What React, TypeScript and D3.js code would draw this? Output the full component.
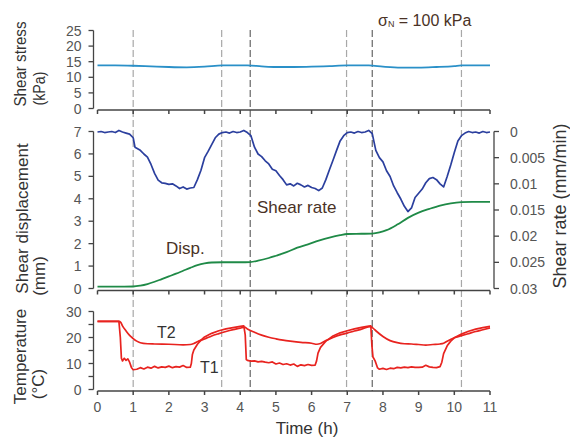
import React from "react";
import * as d3 from "d3";

// ---------- data ----------
const xTicks = [0, 1, 2, 3, 4, 5, 6, 7, 8, 9, 10, 11];
const stressTicks = [0, 5, 10, 15, 20, 25];
const dispTicks = [0, 1, 2, 3, 4, 5, 6, 7];
const rateTicks = [0, 0.005, 0.01, 0.015, 0.02, 0.025, 0.03];
const rateTickLabels = ["0", "0.005", "0.01", "0.015", "0.02", "0.025", "0.03"];
const tempTicks = [0, 5, 10, 15, 20, 25, 30];
const tempLabelTicks = [0, 10, 20, 30];

const eventTimes = [1.0, 3.48, 4.28, 6.98, 7.7, 10.2];
const eventKinds = ["light", "light", "dark", "light", "dark", "light"];

const stressT = [0, 0.5, 1, 1.5, 2, 2.5, 3, 3.5, 4.2, 4.6, 5, 5.5, 6, 6.5, 7, 7.6, 8, 8.5, 9, 9.5, 10, 10.2, 10.6, 11];
const stressV = [13.8, 13.8, 13.7, 13.5, 13.3, 13.2, 13.4, 13.8, 13.8, 13.5, 13.3, 13.3, 13.4, 13.6, 13.8, 13.8, 13.4, 13.1, 13.1, 13.3, 13.6, 13.8, 13.8, 13.8];

const rateT = [
  0, 0.1, 0.2, 0.3, 0.4, 0.5, 0.6, 0.7, 0.8, 0.9, 1.0, 1.05, 1.1, 1.2, 1.3, 1.4, 1.5, 1.6, 1.7, 1.8, 1.9,
  2.0, 2.1, 2.2, 2.3, 2.4, 2.5, 2.6, 2.7, 2.8, 2.9, 3.0, 3.1, 3.2, 3.3, 3.4, 3.5, 3.6, 3.7, 3.8, 3.9,
  4.0, 4.1, 4.2, 4.3, 4.4, 4.5, 4.6, 4.7, 4.8, 4.9, 5.0, 5.1, 5.2, 5.3, 5.4, 5.5, 5.6, 5.7, 5.8, 5.9,
  6.0, 6.1, 6.2, 6.3, 6.4, 6.5, 6.6, 6.7, 6.8, 6.9, 7.0, 7.1, 7.2, 7.3, 7.4, 7.5, 7.6, 7.7, 7.8, 7.9,
  8.0, 8.1, 8.2, 8.3, 8.4, 8.5, 8.6, 8.7, 8.8, 8.9, 9.0, 9.1, 9.2, 9.3, 9.4, 9.5, 9.6, 9.7, 9.8, 9.9,
  10.0, 10.1, 10.2, 10.3, 10.4, 10.5, 10.6, 10.7, 10.8, 10.9, 11.0,
];
const rateV = [
  0.0001, 0.0, 0.0002, 0.0001, 0.0, 0.0002, -0.0002, 0.0001, 0.0003, 0.0005, 0.0012, 0.003, 0.0032, 0.0036, 0.0043, 0.0049, 0.0063, 0.008, 0.0093, 0.0098, 0.0099,
  0.0101, 0.01, 0.0104, 0.0109, 0.0106, 0.011, 0.0108, 0.0107, 0.0092, 0.0074, 0.005, 0.0038, 0.0025, 0.0012, 0.0005, 0.0002, 0.0001, 0.0003, 0.0, 0.0002,
  0.0001, -0.0002, 0.0002, 0.0008, 0.003, 0.0043, 0.0048, 0.0056, 0.0062, 0.0072, 0.0075, 0.0084, 0.0092, 0.0102, 0.01, 0.0104, 0.0099, 0.0102, 0.0106, 0.0103,
  0.0107, 0.0109, 0.0113, 0.0108, 0.0092, 0.0073, 0.0055, 0.0036, 0.0018, 0.0008, 0.0002, 0.0001, 0.0003, 0.0, 0.0002, 0.0001, -0.0002, 0.0004, 0.0036, 0.005,
  0.0058, 0.0075, 0.0086, 0.0104, 0.0117, 0.0129, 0.0143, 0.0153, 0.0146, 0.0126, 0.0118, 0.011, 0.0098, 0.009, 0.0088, 0.0092, 0.01, 0.0106, 0.0086, 0.0064,
  0.004, 0.0018, 0.0008, 0.0003, 0.0, 0.0002, 0.0001, 0.0003, 0.0, 0.0002, 0.0001,
];

const dispT = [0, 0.5, 1.0, 1.2, 1.4, 1.6, 1.8, 2.0, 2.2, 2.4, 2.6, 2.8, 3.0, 3.2, 3.5, 4.0, 4.28, 4.5, 4.8, 5.0, 5.3, 5.6, 5.9, 6.2, 6.5, 6.8, 7.0, 7.4, 7.7, 7.9, 8.1, 8.4, 8.7, 9.0, 9.3, 9.6, 9.9, 10.2, 10.5, 11.0];
const dispV = [0.08, 0.08, 0.09, 0.13, 0.2, 0.3, 0.42, 0.54, 0.66, 0.79, 0.92, 1.04, 1.12, 1.16, 1.17, 1.17, 1.18, 1.24, 1.36, 1.46, 1.62, 1.82, 1.97, 2.13, 2.27, 2.38, 2.43, 2.44, 2.45, 2.5, 2.6, 2.85, 3.15, 3.38, 3.55, 3.7, 3.8, 3.85, 3.86, 3.86];

const t1T = [
  0, 0.3, 0.6, 0.64, 0.67, 0.7, 0.75, 0.8, 0.85, 0.9, 0.95, 1.0, 1.1, 1.2, 1.3, 1.4, 1.5, 1.6, 1.7, 1.8, 1.9, 2.0, 2.1, 2.2, 2.3, 2.4, 2.5, 2.6,
  2.63, 2.66, 2.7, 2.8, 2.9, 3.0, 3.2, 3.4, 3.6, 3.8, 4.0, 4.1, 4.14, 4.17, 4.2, 4.3, 4.4, 4.5, 4.6, 4.7, 4.8, 4.9, 5.0, 5.1, 5.2, 5.3, 5.4, 5.5,
  5.6, 5.7, 5.8, 5.9, 6.0, 6.1, 6.14, 6.18, 6.25, 6.4, 6.6, 6.8, 7.0, 7.2, 7.4, 7.6, 7.66, 7.69, 7.72, 7.78, 7.85, 7.9, 8.0, 8.1, 8.2, 8.3, 8.4,
  8.5, 8.6, 8.7, 8.8, 8.9, 9.0, 9.1, 9.2, 9.3, 9.4, 9.5, 9.6, 9.65, 9.7, 9.8, 9.9, 10.0, 10.2, 10.4, 10.6, 10.8, 11.0,
];
const t1V = [
  26.2, 26.2, 26.2, 20, 12, 11.0, 12.0, 11.2, 11.8, 10.5, 8.5, 7.6, 7.8, 8.4, 7.9, 8.6, 8.2, 8.9, 8.3, 8.7, 8.5, 9.0, 8.4, 8.8, 8.6, 9.2, 8.5, 8.6,
  10, 13.5, 15.2, 17.4, 19.0, 20.2, 21.6, 22.6, 23.3, 23.8, 24.3, 24.5, 21, 11.5, 11.2, 10.9, 11.0, 10.6, 10.8, 10.5, 10.3, 10.6, 9.8, 10.2, 9.6, 9.9, 9.4, 9.8,
  8.9, 9.5, 9.2, 9.6, 9.3, 9.4, 11, 14, 16.2, 18.6, 20.6, 21.8, 22.6, 23.3, 23.9, 24.4, 24.5, 17, 12.5, 11, 8.3, 7.8, 8.1, 7.7, 8.2, 8.0, 8.5,
  8.3, 8.6, 8.4, 8.7, 8.5, 8.5, 8.6, 9.3, 8.7, 8.5, 8.4, 8.8, 10.5, 13.8, 16.8, 18.6, 19.9, 21.3, 22.4, 23.2, 23.8, 24.3,
];

const t2T = [0, 0.6, 0.65, 0.7, 0.8, 0.9, 1.0, 1.1, 1.2, 1.4, 1.6, 2.0, 2.4, 2.6, 2.7, 2.8, 3.0, 3.2, 3.4, 3.6, 3.8, 4.0, 4.12, 4.2, 4.4, 4.6, 4.8, 5.0, 5.2, 5.4, 5.7, 6.0, 6.15, 6.25, 6.4, 6.6, 6.8, 7.0, 7.2, 7.4, 7.65, 7.72, 7.8, 8.0, 8.2, 8.4, 8.6, 8.8, 9.0, 9.2, 9.4, 9.6, 9.7, 9.8, 10.0, 10.2, 10.4, 10.6, 10.8, 11.0];
const t2V = [26.2, 26.2, 25.8, 24.5, 22.5, 20.8, 19.6, 18.6, 18.0, 17.6, 17.5, 17.4, 17.2, 17.3, 17.7, 18.4, 19.4, 20.6, 21.5, 22.3, 23.0, 23.6, 24.0, 23.3, 22.0, 20.9, 20.1, 19.5, 19.0, 18.6, 18.1, 17.8, 17.4, 17.7, 18.8, 20.0, 21.0, 21.7, 22.5, 23.2, 24.2, 23.6, 22.6, 20.4, 18.8, 18.0, 17.6, 17.5, 17.3, 17.1, 17.3, 17.5, 17.8, 18.6, 19.9, 20.7, 21.5, 22.3, 23.0, 23.7];

// ---------- chart ----------
const W = 570;
const H = 441;
const FONT = "'Liberation Sans', Arial, Helvetica, sans-serif";
const TICK_COLOR = "#555";
const AXIS_COLOR = "#444";
const TITLE_COLOR = "#333";
const NOTE_COLOR = "#4a3226";

const x = d3.scaleLinear().domain([0, 11]).range([97.5, 490]);
const yStress = d3.scaleLinear().domain([0, 25]).range([108.5, 30.5]);
const yDisp = d3.scaleLinear().domain([0, 7]).range([288.5, 131.5]);
const yRate = d3.scaleLinear().domain([0, 0.03]).range([131.5, 288.5]);
const yTemp = d3.scaleLinear().domain([0, 30]).range([389.5, 311.5]);

const AX_LEFT = 93.5;
const AX_RIGHT = 494;

function mkLine(ts: number[], vs: number[], ys: d3.ScaleLinear<number, number>, curve = d3.curveLinear) {
  const pts = ts.map((t, i) => [t, vs[i]] as [number, number]);
  return d3
    .line<[number, number]>()
    .x((d) => x(d[0]))
    .y((d) => ys(d[1]))
    .curve(curve)(pts) as string;
}

function LeftAxis({ ys, ticks, labels }: { ys: d3.ScaleLinear<number, number>; ticks: number[]; labels: number[] }) {
  const [d0, d1] = ys.domain();
  return (
    <g>
      <line x1={AX_LEFT} x2={AX_LEFT} y1={ys(d1)} y2={ys(d0)} stroke={AXIS_COLOR} strokeWidth={1.3} />
      {ticks.map((t) => (
        <line key={t} x1={AX_LEFT - 5} x2={AX_LEFT} y1={ys(t)} y2={ys(t)} stroke={AXIS_COLOR} strokeWidth={1.3} />
      ))}
      {labels.map((t) => (
        <text key={"l" + t} x={AX_LEFT - 12} y={ys(t)} dy="0.36em" textAnchor="end" fontSize={14} fill={TICK_COLOR} fontFamily={FONT}>
          {t}
        </text>
      ))}
    </g>
  );
}

function BottomAxis({ y, labels }: { y: number; labels: boolean }) {
  return (
    <g>
      <line x1={x(0)} x2={x(11)} y1={y} y2={y} stroke={AXIS_COLOR} strokeWidth={1.3} />
      {xTicks.map((t) => (
        <line key={t} x1={x(t)} x2={x(t)} y1={y} y2={y + 4} stroke={AXIS_COLOR} strokeWidth={1.5} />
      ))}
      {labels &&
        xTicks.map((t) => (
          <text key={"l" + t} x={x(t)} y={y + 21} textAnchor="middle" fontSize={14} fill={TICK_COLOR} fontFamily={FONT}>
            {t}
          </text>
        ))}
    </g>
  );
}

function VTitle({ x: tx, y: ty, size, len, children }: { x: number; y: number; size: number; len?: number; children: React.ReactNode }) {
  return (
    <text
      transform={`translate(${tx},${ty}) rotate(-90)`}
      textAnchor="middle"
      fontSize={size}
      fill={TITLE_COLOR}
      fontFamily={FONT}
      {...(len ? { textLength: len, lengthAdjust: "spacingAndGlyphs" } : {})}
    >
      {children}
    </text>
  );
}

export default function App() {
  const stressPath = mkLine(stressT, stressV, yStress, d3.curveMonotoneX);
  const ratePath = mkLine(rateT, rateV, yRate);
  const dispPath = mkLine(dispT, dispV, yDisp, d3.curveMonotoneX);
  const t1Path = mkLine(t1T, t1V, yTemp);
  const t2Path = mkLine(t2T, t2V, yTemp, d3.curveMonotoneX);

  return (
    <svg width={W} height={H} style={{ position: "absolute", left: 0, top: 0, background: "#fff" }}>
      {/* event lines */}
      {eventTimes.map((t, i) => (
        <line
          key={"e" + i}
          x1={x(t)}
          x2={x(t)}
          y1={30}
          y2={391}
          stroke={eventKinds[i] === "dark" ? "#666" : "#a8a8a8"}
          strokeWidth={1.2}
          strokeDasharray="7,3"
        />
      ))}

      {/* top panel */}
      <LeftAxis ys={yStress} ticks={stressTicks} labels={stressTicks} />
      <BottomAxis y={110} labels={false} />
      <path d={stressPath} fill="none" stroke="#2a90c8" strokeWidth={1.8} />

      {/* middle panel */}
      <LeftAxis ys={yDisp} ticks={dispTicks} labels={dispTicks} />
      <BottomAxis y={290.5} labels={false} />
      <line x1={AX_RIGHT} x2={AX_RIGHT} y1={yRate(0)} y2={yRate(0.03)} stroke={AXIS_COLOR} strokeWidth={1.3} />
      {rateTicks.map((t, i) => (
        <g key={"r" + i}>
          <line x1={AX_RIGHT} x2={AX_RIGHT + 5} y1={yRate(t)} y2={yRate(t)} stroke={AXIS_COLOR} strokeWidth={1.3} />
          <text x={AX_RIGHT + 16} y={yRate(t)} dy="0.36em" fontSize={14} fill={TICK_COLOR} fontFamily={FONT}>
            {rateTickLabels[i]}
          </text>
        </g>
      ))}
      <path d={dispPath} fill="none" stroke="#1f8a47" strokeWidth={1.8} />
      <path d={ratePath} fill="none" stroke="#2b3f9e" strokeWidth={1.7} strokeLinejoin="round" />

      {/* bottom panel */}
      <LeftAxis ys={yTemp} ticks={tempTicks} labels={tempLabelTicks} />
      <BottomAxis y={391} labels={true} />
      <path d={t2Path} fill="none" stroke="#e8231f" strokeWidth={1.7} />
      <path d={t1Path} fill="none" stroke="#e8231f" strokeWidth={1.7} strokeLinejoin="round" />

      {/* annotations */}
      <text x={378} y={26} fontSize={16} fill={NOTE_COLOR} fontFamily={FONT}>
        σ<tspan fontSize={9} dy={1}>N</tspan>
        <tspan dy={-1}> = 100 kPa</tspan>
      </text>
      <text x={257} y={212.5} fontSize={17} fill={NOTE_COLOR} fontFamily={FONT}>
        Shear rate
      </text>
      <text x={166} y={254} fontSize={17} fill={NOTE_COLOR} fontFamily={FONT}>
        Disp.
      </text>
      <text x={157} y={338} fontSize={16} fill={TITLE_COLOR} fontFamily={FONT}>
        T2
      </text>
      <text x={200} y={373} fontSize={16} fill={TITLE_COLOR} fontFamily={FONT}>
        T1
      </text>

      {/* axis titles */}
      <VTitle x={25.5} y={64} size={16.5} len={85}>Shear stress</VTitle>
      <VTitle x={44.5} y={88.5} size={16.5} len={34}>(kPa)</VTitle>
      <VTitle x={27.5} y={218.5} size={17}>Shear displacement</VTitle>
      <VTitle x={45} y={276} size={17}>(mm)</VTitle>
      <VTitle x={25.5} y={356.5} size={17}>Temperature</VTitle>
      <VTitle x={44} y={384} size={17}>(°C)</VTitle>
      <VTitle x={565.5} y={206} size={18}>Shear rate (mm/min)</VTitle>
      <text x={307} y={434} textAnchor="middle" fontSize={17} fill={TITLE_COLOR} fontFamily={FONT}>
        Time (h)
      </text>
    </svg>
  );
}
